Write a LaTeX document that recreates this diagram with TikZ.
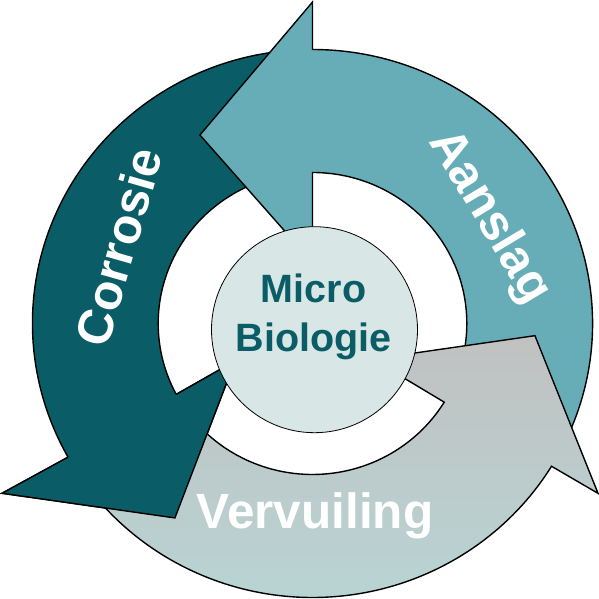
\documentclass[tikz,border=0pt]{standalone}
\usepackage{fontspec}
\setmainfont{Liberation Sans}
\definecolor{corr}{HTML}{0A5D66}
\definecolor{aans}{HTML}{66ADB8}
\definecolor{vtop}{HTML}{C1C1C1}
\definecolor{vbot}{HTML}{B8D4D4}
\definecolor{ctr}{HTML}{D8E6E6}
\begin{document}
\begin{tikzpicture}[x=1pt,y=1pt,
  outl/.style={draw=black, line width=1.4pt, line join=miter},
  lbl/.style={text=white, font=\fontsize{49.5}{58}\selectfont\bfseries, inner sep=0pt},
  ctxt/.style={text=corr, font=\fontsize{39.5}{48}\selectfont\bfseries, inner sep=0pt},
  core/.style={circle, minimum size=206pt, inner sep=0pt, fill=ctr, draw=black, line width=0.8pt}]
\useasboundingbox (-312.5,-275.5) rectangle (286.5,323.5);
\begin{scope}[xscale=1.022]
  % Corrosie body + head
  \path[fill=corr, outl] (94:151) -- (94:274)
    arc[start angle=94, end angle=209.2, radius=274pt]
    -- (209.2:348) -- (235.3:236.5) -- (206.3:84.6) -- (208:151)
    arc[start angle=208, end angle=94, radius=151pt] -- cycle;
  % Aanslag
  \path[fill=aans, outl] (-27:151) -- (-27:274)
    arc[start angle=-27, end angle=90, radius=274pt]
    -- (90:321.5) -- (120.3:218.3) -- (90:61) -- (90:151)
    arc[start angle=90, end angle=-27, radius=151pt] -- cycle;
  % Vervuiling
  \path[top color=vtop, bottom color=vbot, outl] (214:151) -- (214:274)
    arc[start angle=214, end angle=328.6, radius=274pt]
    -- (328.7:327) -- (356.8:218) -- (328.7:68.6) -- (328.6:151)
    arc[start angle=328.6, end angle=214, radius=151pt] -- cycle;
  % Corrosie head again on top
  \fill[corr] (209.2:274) -- (209.2:348) -- (235.3:236.5) -- (206.3:84.6) -- (208:151) -- cycle;
  \draw[outl] (209.2:274) -- (209.2:348) -- (235.3:236.5) -- (206.3:84.6) -- (208:151);
\end{scope}
\node[core] (mb) at (2,-6.2) {};
\node[ctxt, anchor=base] (micro) at (1,20.5) {Micro};
\node[ctxt, anchor=base] (bio) at (1,-28.5) {Biologie};
\node[lbl, rotate=74] (corrosie) at (-194,77) {Corrosie};
\node[lbl, rotate=-59, text depth=0pt] (aanslag) at (181,109) {Aanslag};
\node[lbl, anchor=base] (vervuiling) at (2.5,-204.5) {Vervuiling};
\end{tikzpicture}
\end{document}
